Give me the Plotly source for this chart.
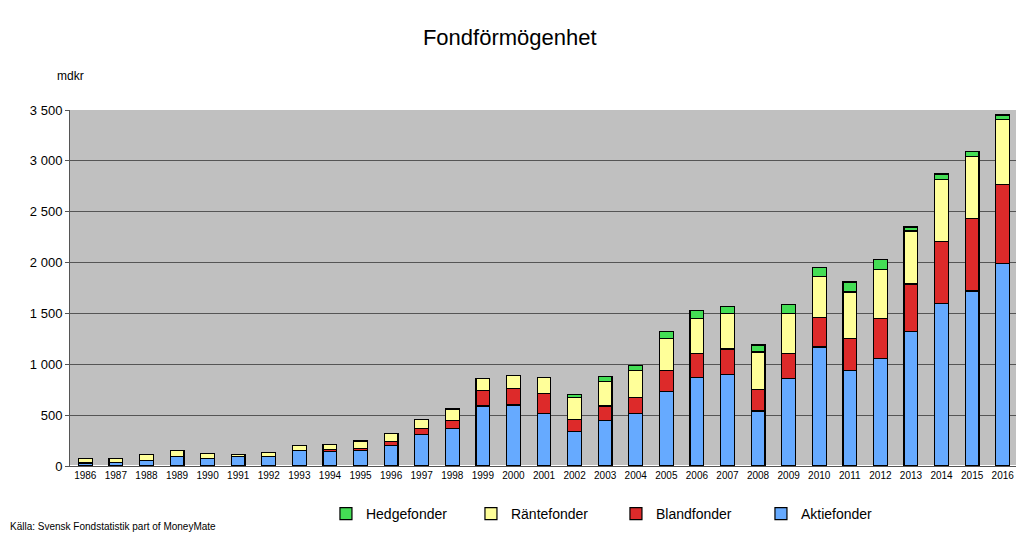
import plotly.graph_objects as go
import numpy as np

years = [str(y) for y in range(1986, 2017)]
aktie_top = [30,35,55,90,70,90,95,150,140,150,200,310,370,590,600,520,340,450,520,730,870,900,540,860,1170,940,1060,1320,1600,1720,1990]
bland_top = [30,35,55,90,70,90,95,150,160,175,240,370,450,740,760,710,460,590,670,940,1110,1150,750,1110,1460,1250,1450,1790,2210,2430,2770]
rante_top = [70,75,110,150,125,115,135,205,210,245,320,455,560,860,890,870,670,830,940,1250,1450,1500,1120,1500,1860,1710,1930,2310,2820,3040,3410]
hedge_top = [70,75,110,150,125,115,135,205,210,245,320,455,560,860,890,870,700,880,990,1320,1530,1570,1190,1590,1950,1810,2030,2350,2870,3090,3450]

aktie = np.array(aktie_top)
bland = np.array(bland_top) - np.array(aktie_top)
rante = np.array(rante_top) - np.array(bland_top)
hedge = np.array(hedge_top) - np.array(rante_top)

fig = go.Figure()
for name, vals, col in [("Aktiefonder", aktie, "#66aaff"), ("Blandfonder", bland, "#dd2a2a"),
                        ("Räntefonder", rante, "#ffff99"), ("Hedgefonder", hedge, "#44dd55")]:
    fig.add_trace(go.Bar(x=years, y=vals, name=name, marker=dict(color=col, line=dict(color="black", width=1.2))))

fig.update_layout(
    barmode="stack", bargap=0.55,
    width=1024, height=541,
    paper_bgcolor="white", plot_bgcolor="#c0c0c0",
    font=dict(family="Liberation Sans, Arial", color="black", size=12),
    title=dict(text="Fondförmögenhet", x=0.49, xanchor="center", y=0.96, font=dict(size=22)),
    margin=dict(l=62, r=14, t=102, b=83, autoexpand=False),
    legend=dict(orientation="h", traceorder="reversed", x=0.27, y=-0.09, xanchor="left", yanchor="top",
                font=dict(size=14), entrywidth=100),
    showlegend=True,
    separators=", ",
)
fig.update_yaxes(range=[0, 3500], dtick=500, tickformat=",d",
                 gridcolor="#555555", gridwidth=1, showline=True, linecolor="#555555",
                 ticks="outside", ticklen=4, tickcolor="#555555", tickfont=dict(size=13))
fig.update_xaxes(showline=True, linecolor="#555555", tickfont=dict(size=10), tickangle=0)
fig.add_annotation(text="mdkr", xref="paper", yref="paper", x=-0.0, y=1.12, showarrow=False,
                   xanchor="center", font=dict(size=12))
fig.add_annotation(text="Källa: Svensk Fondstatistik part of MoneyMate", xref="paper", yref="paper",
                   x=-0.065, y=-0.19, xanchor="left", showarrow=False, font=dict(size=10))
fig.write_html("out.html")
